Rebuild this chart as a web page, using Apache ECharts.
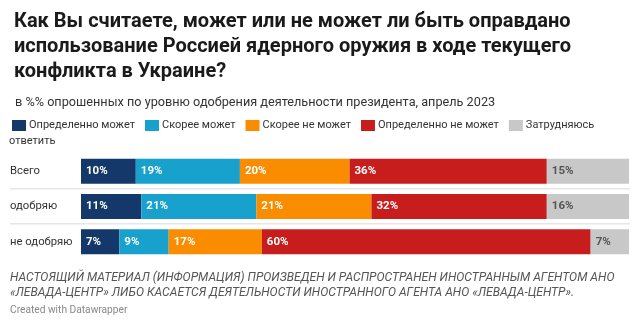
<!DOCTYPE html>
<html><head><meta charset="utf-8">
<script src="https://cdn.jsdelivr.net/npm/echarts@6/dist/echarts.min.js"></script>
<style>html,body{margin:0;padding:0;background:#fff}#c{width:640px;height:326px}</style>
</head><body><div id="c"></div>
<script>
const categories = ['Всего', 'одобряю', 'не одобряю'];
const seriesNames = ['Определенно может', 'Скорее может', 'Скорее не может', 'Определенно не может', 'Затрудняюсь ответить'];
const definitelyCan = [10, 11, 7];
const ratherCan = [19, 21, 9];
const ratherCannot = [20, 21, 17];
const definitelyCannot = [36, 32, 60];
const hardToSay = [15, 16, 7];
const colors = ['#15386a', '#18a1cd', '#fa8c00', '#c71e1d', '#c8c8c8'];
const labelColors = ['#fff', '#fff', '#fff', '#fff', '#555'];
const values = [definitelyCan, ratherCan, ratherCannot, definitelyCannot, hardToSay];

const FONT = 'Roboto';
const chart = echarts.init(document.getElementById('c'));
const series = seriesNames.map((n, i) => ({
  name: n, type: 'bar', stack: 'all', data: values[i], barWidth: 25,
  itemStyle: { color: colors[i] },
  label: { show: true, position: 'insideLeft', distance: 5, formatter: '{c}%',
    color: labelColors[i], fontFamily: FONT, fontSize: 11.5, fontWeight: 'bold' },
  emphasis: { disabled: true }, animation: false
}));
chart.setOption({
  animation: false,
  title: [{
    text: 'Как Вы считаете, может или не может ли быть оправдано\nиспользование Россией ядерного оружия в ходе текущего\nконфликта в Украине?',
    left: 9, top: 4,
    textStyle: { fontFamily: FONT, fontSize: 20, fontWeight: 'bold', color: '#1a1a1a', lineHeight: 25 }
  }, {
    text: 'в %% опрошенных по уровню одобрения деятельности президента, апрель 2023',
    left: 10, top: 91,
    textStyle: { fontFamily: FONT, fontSize: 12.7, fontWeight: 'normal', color: '#333' }
  }],
  legend: {
    left: 7, top: 115, width: 630, itemWidth: 14, itemHeight: 11, itemGap: 10, icon: 'rect',
    selectedMode: false,
    formatter: n => n === 'Затрудняюсь ответить' ? 'Затрудняюсь' : n,
    textStyle: { fontFamily: FONT, fontSize: 11, color: '#333', padding: [0, 0, 0, -2] },
    data: seriesNames
  },
  grid: { left: 81, right: 11, top: 153.5, height: 106 },
  xAxis: { type: 'value', min: 0, max: 100, show: false },
  yAxis: {
    type: 'category', data: categories, inverse: true,
    axisLine: { show: false }, axisTick: { show: false },
    axisLabel: { align: 'left', margin: 71, fontFamily: FONT, fontSize: 11.3, color: '#333' }
  },
  graphic: [
    { type: 'text', left: 9, top: 136, style: { text: 'ответить', fontFamily: FONT, fontSize: 11, fill: '#333' } },
    { type: 'text', left: 10, top: 270, style: { text: 'НАСТОЯЩИЙ МАТЕРИАЛ (ИНФОРМАЦИЯ) ПРОИЗВЕДЕН И РАСПРОСТРАНЕН ИНОСТРАННЫМ АГЕНТОМ АНО\n«ЛЕВАДА-ЦЕНТР» ЛИБО КАСАЕТСЯ ДЕЯТЕЛЬНОСТИ ИНОСТРАННОГО АГЕНТА АНО «ЛЕВАДА-ЦЕНТР».', fontFamily: FONT, fontSize: 12.1, fontStyle: 'italic', fill: '#555', lineHeight: 15.5 } },
    { type: 'text', left: 10, top: 305, style: { text: 'Created with Datawrapper', fontFamily: FONT, fontSize: 10.2, fill: '#888' } }
  ],
  series: series
});
// separators between rows
const seps = [];
for (let i = 0; i < categories.length - 1; i++) {
  const y1 = chart.convertToPixel({ yAxisIndex: 0 }, categories[i]);
  const y2 = chart.convertToPixel({ yAxisIndex: 0 }, categories[i + 1]);
  seps.push({ type: 'rect', shape: { x: 10, y: Math.round((y1 + y2) / 2) - 1, width: 620, height: 1.5 }, style: { fill: '#e6e6e6' }, z: 0 });
}
const g = chart.getOption().graphic[0].elements;
chart.setOption({ graphic: g.concat(seps) });
</script></body></html>
